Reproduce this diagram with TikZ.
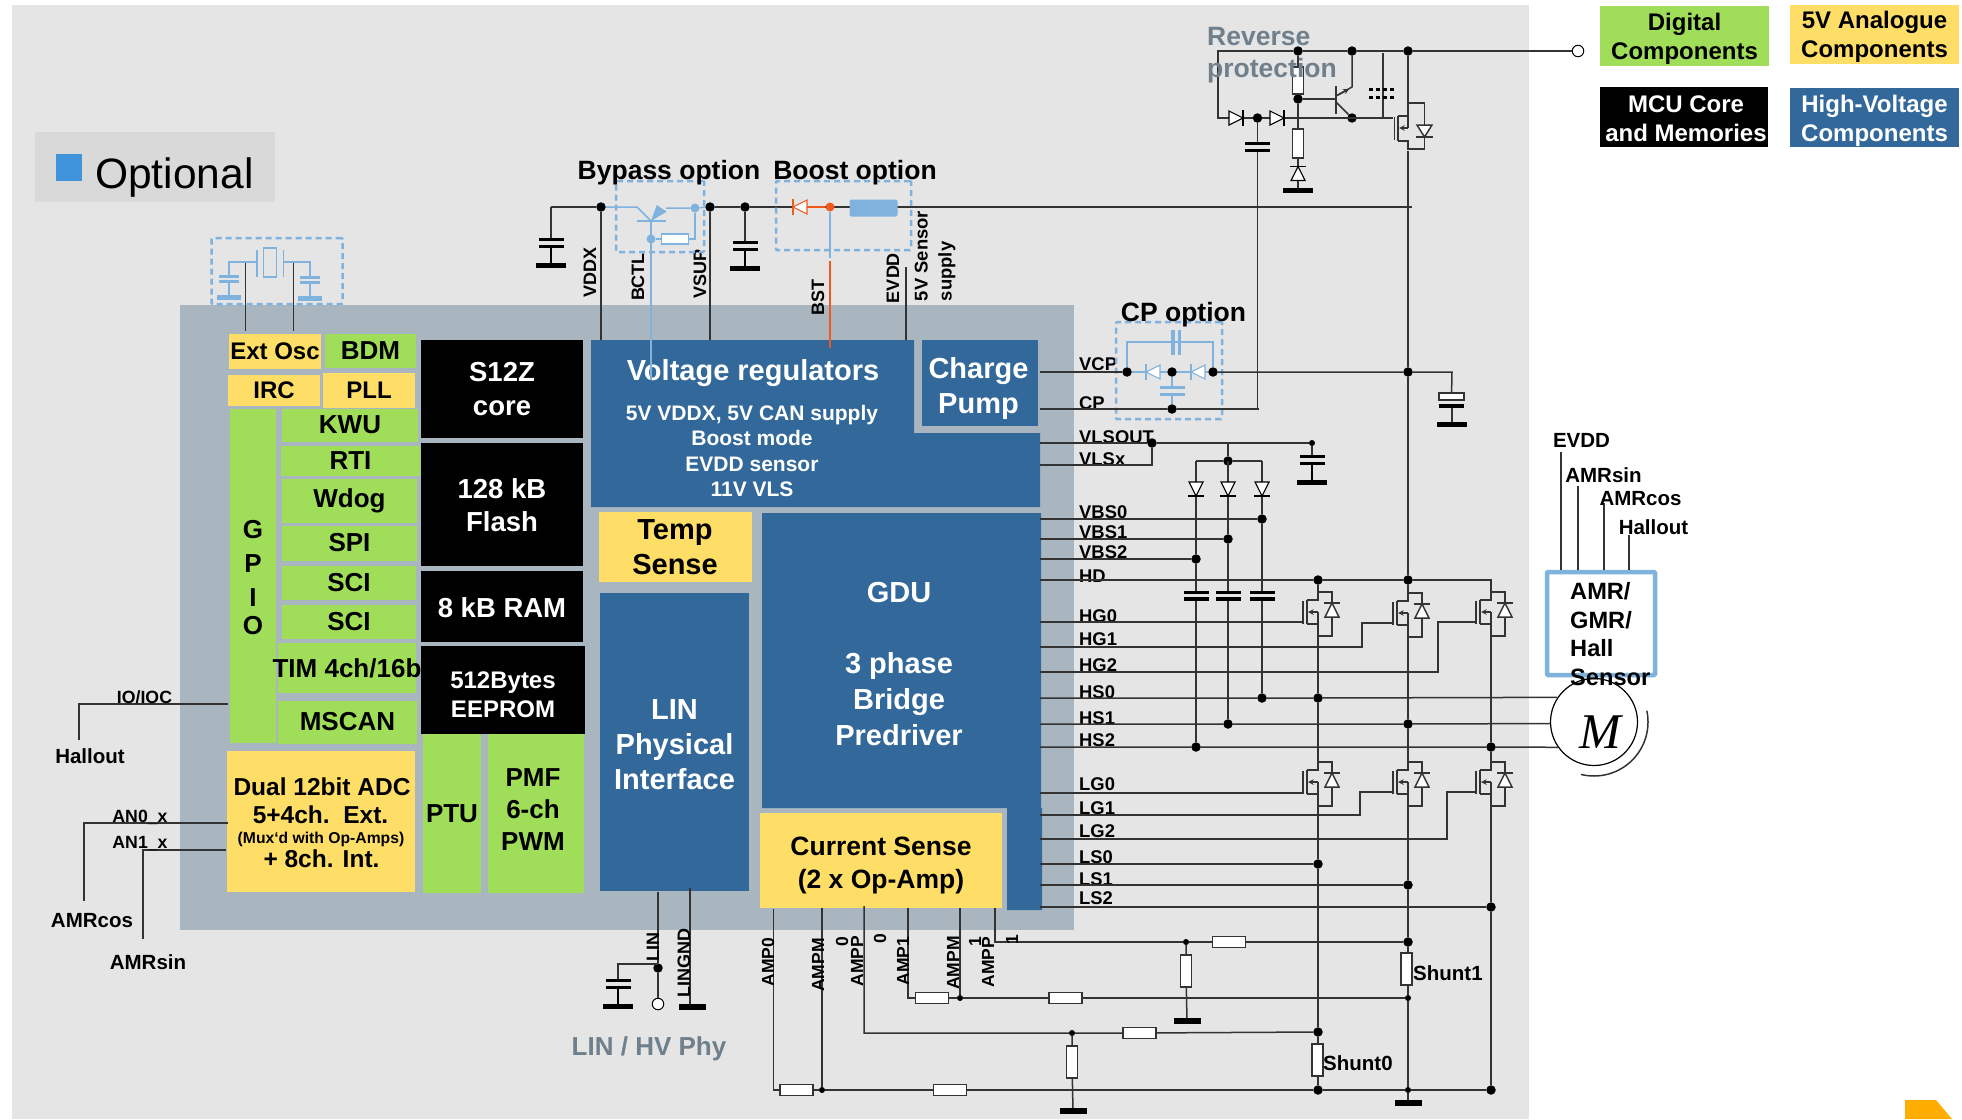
\documentclass[tikz,border=0pt]{standalone}
\usepackage{fontspec}
\setmainfont{Liberation Sans}
\newfontfamily\motorfont{Liberation Serif}
\usetikzlibrary{arrows,calc,positioning}

\definecolor{bgcol}{HTML}{E5E5E5}
\definecolor{chipcol}{HTML}{A9B6C0}
\definecolor{digcol}{HTML}{A0DE5A}
\definecolor{anacol}{HTML}{FFDE68}
\definecolor{hvcol}{HTML}{32689A}
\definecolor{optblue}{HTML}{7FB2DD}
\definecolor{bstcol}{HTML}{F05A1E}
\definecolor{grytxt}{HTML}{6F7F8C}
\definecolor{optsq}{HTML}{3F94DB}
\definecolor{optbg}{HTML}{D9D9D9}
\definecolor{cornercol}{HTML}{FFAD00}

\newcommand{\fsz}[2]{\fontsize{#1}{#2}\selectfont}

\tikzset{
  block/.style={inner sep=0pt,outer sep=0pt,align=center,font=\bfseries\fsz{26}{32}},
  digblk/.style={block,fill=digcol,text=black},
  anablk/.style={block,fill=anacol,text=black},
  hvblk/.style={block,fill=hvcol,text=white},
  mcublk/.style={block,fill=black,text=white},
  lbl/.style={inner sep=0pt,align=center,font=\bfseries\fsz{26}{32}},
  leglbl/.style={lbl,font=\bfseries\fsz{24}{29}},
  pinlbl/.style={inner sep=0pt,align=left,font=\bfseries\fsz{18.4}{24}},
  extlbl/.style={inner sep=0pt,font=\bfseries\fsz{20.5}{24}},
  wire/.style={line width=1.5pt,draw=black!80},
  optwire/.style={line width=1.5pt,draw=optblue},
  optbox/.style={draw=optblue,line width=2.5pt,dash pattern=on 6pt off 4pt,inner sep=0pt,rounded corners=1pt},
  jdot/.style={circle,fill=black,inner sep=0pt,minimum size=9.5},
  sdot/.style={circle,fill=black,inner sep=0pt,minimum size=6},
  odot/.style={circle,fill=optblue,inner sep=0pt,minimum size=9},
  term/.style={circle,draw=black,fill=white,line width=1pt,inner sep=0pt,minimum size=11.5},
  rh/.style={draw=black!80,fill=white,line width=1.3pt,inner sep=0pt,minimum width=33,minimum height=11},
  rv/.style={rh,minimum width=11.5,minimum height=32},
  gnd/.style={fill=black,inner sep=0pt,minimum width=27,minimum height=5.5},
  pics/diode/.style={code={
    \draw[#1,line width=1.1pt,fill=white] (-7,-7) -- (-7,7) -- (7,0) -- cycle;
    \draw[#1,line width=1.1pt] (7,-8) -- (7,8);
    \coordinate (-a) at (-7,0);
    \coordinate (-c) at (7,0);
  }},
  pics/diode/.default=black,
  pics/plates/.style={code={
    \fill[#1] (-12.5,0) rectangle (12.5,3.4);
    \fill[#1] (-12.5,6.6) rectangle (12.5,10);
    \coordinate (-t) at (0,0);
    \coordinate (-b) at (0,10);
  }},
  pics/plates/.default=black,
  pics/gcap/.style={code={
    \fill[#1] (-12.5,0) rectangle (12.5,3.4);
    \fill[#1] (-12.5,6.6) rectangle (12.5,10);
    \draw[#1,line width=1.5pt] (0,10) -- (0,25);
    \fill[#1] (-15,24.5) rectangle (15,30);
    \coordinate (-t) at (0,0);
  }},
  pics/gcap/.default=black,
  pics/fet/.style={code={
    \draw[wire] (0,0) -- (0,8) -- (-11,8);
    \draw[wire] (-11,32) -- (0,32) -- (0,52);
    \draw[wire] (0,20) -- (0,32);
    \draw[wire,->] (0,20) -- (-10,20);
    \draw[line width=1.8pt,black!80] (-11,8) -- (-11,32);
    \draw[wire] (-15,9) -- (-15,32);
    \draw[wire] (0,0) -- (14,0) -- (14,11);
    \draw[wire] (14,25) -- (14,44) -- (0,44);
    \draw[wire,fill=white] (7,25) -- (21,25) -- (14,11) -- cycle;
    \draw[wire] (6,11) -- (22,11);
    \coordinate (-d) at (0,0);
    \coordinate (-s) at (0,52);
    \coordinate (-g) at (-15,30);
  }}
}

\begin{document}
\begin{tikzpicture}[x=1pt,y=-1pt,>=stealth]
  \useasboundingbox (0,0) rectangle (1962,1119);
  \fill[white] (0,0) rectangle (1962,1119);
  \fill[bgcol] (12,5) rectangle (1529,1119);
  \fill[chipcol] (180,305) rectangle (1074,930);

  % optional marker
  \fill[optbg] (35,132) rectangle (275,202);
  \fill[optsq] (56,154) rectangle (82,181);
  \node[inner sep=0pt,anchor=west,font=\fsz{42.5}{46}] (optlbl) at (95,177.5) {Optional};

  % legend
  \node[digblk,minimum width=169,minimum height=60] (legdig) at (1684.5,36) {};
  \node[anablk,minimum width=169,minimum height=59] (legana) at (1874.5,34.5) {};
  \node[mcublk,minimum width=168,minimum height=60] (legmcu) at (1684,117) {};
  \node[hvblk,minimum width=169,minimum height=59] (leghv) at (1874.5,117.5) {};
  \node[leglbl] (legdigt) at (1684.5,39) {Digital\\Components};
  \node[leglbl] (leganat) at (1874.5,36.5) {5V Analogue\\Components};
  \node[leglbl,text=white] (legmcut) at (1686,119) {MCU Core\\\makebox[0pt]{and Memories}};
  \node[leglbl,text=white] (leghvt) at (1874.5,120.5) {High-Voltage\\Components};

  % digital and analogue blocks
  \node[anablk,minimum width=92,minimum height=35,font=\bfseries\fsz{24}{28}] (extosc) at (275,351.5) {\makebox[0pt]{Ext Osc}};
  \node[digblk,minimum width=91,minimum height=34] (bdm) at (370.5,351) {BDM};
  \node[anablk,minimum width=92,minimum height=31,font=\bfseries\fsz{24}{28}] (irc) at (274,390.5) {IRC};
  \node[anablk,minimum width=91.5,minimum height=35,font=\bfseries\fsz{24}{28}] (pll) at (369,390.5) {PLL};
  \node[digblk,minimum width=46,minimum height=334] (gpio) at (253,576) {};
  \foreach \n/\c/\y in {gG/G/530,gP/P/564,gI/I/598,gO/O/626}
    \node[lbl] (\n) at (253,\y) {\c};
  \node[digblk,minimum width=136,minimum height=33] (kwu) at (350,425) {KWU};
  \node[digblk,minimum width=139,minimum height=30] (rti) at (350.5,460.5) {RTI};
  \node[digblk,minimum width=135,minimum height=44] (wdog) at (349.5,501) {Wdog};
  \node[digblk,minimum width=135,minimum height=35] (spi) at (349.5,543) {SPI};
  \node[digblk,minimum width=134,minimum height=34] (scia) at (349,583) {SCI};
  \node[digblk,minimum width=134,minimum height=34] (scib) at (349,622) {SCI};
  \node[digblk,minimum width=138,minimum height=50] (tim) at (347,668) {\makebox[0pt]{TIM 4ch/16b}};
  \node[digblk,minimum width=139,minimum height=43] (mscan) at (347.5,722) {MSCAN};
  \node[anablk,minimum width=188,minimum height=141] (adc) at (321,821.5) {};
  \node[lbl,font=\bfseries\fsz{24.5}{28}] (adca) at (322,787) {Dual 12bit ADC};
  \node[lbl,font=\bfseries\fsz{24.5}{28}] (adcb) at (320.5,815) {5+4ch.\ \ Ext.};
  \node[lbl,font=\bfseries\fsz{15.7}{18}] (adcc) at (321,839) {(Mux‘d with Op-Amps)};
  \node[lbl,font=\bfseries\fsz{24.5}{28}] (adcd) at (321.5,859) {+ 8ch. Int.};

  % core and memories
  \node[mcublk,minimum width=162,minimum height=98,font=\bfseries\fsz{27.5}{34}] (core) at (502,389) {S12Z\\core};
  \node[mcublk,minimum width=162,minimum height=123,font=\bfseries\fsz{27.5}{33}] (flash) at (502,504) {};
  \node[lbl,text=white,font=\bfseries\fsz{27.5}{33}] (flasht) at (502,505.5) {128 kB\\Flash};
  \node[mcublk,minimum width=162,minimum height=71,font=\bfseries\fsz{27.5}{33}] (ram) at (502,606) {};
  \node[lbl,text=white,font=\bfseries\fsz{27.5}{33}] (ramt) at (502,607.5) {8 kB RAM};
  \node[digblk,minimum width=58,minimum height=159] (ptu) at (452,813.5) {PTU};
  \node[digblk,minimum width=96,minimum height=159] (pmf) at (535.5,813.5) {};
  \node[lbl] (pmft) at (533,809.5) {PMF\\6-ch\\PWM};
  \node[mcublk,minimum width=164,minimum height=88] (eeprom) at (503,690) {};
  \node[lbl,text=white,font=\bfseries\fsz{24}{29}] (eepromt) at (503,695) {512Bytes\\EEPROM};

  % high voltage blocks
  \fill[hvcol] (591,340) -- (914,340) -- (914,433) -- (1040,433) -- (1040,507) -- (591,507) -- cycle;
  \node[lbl,text=white,font=\bfseries\fsz{29}{34}] (vreg) at (753,373) {Voltage regulators};
  \node[lbl,text=white,font=\bfseries\fsz{21}{25.2}] (vregb) at (752,451) {5V VDDX, 5V CAN supply\\Boost mode\\EVDD sensor\\11V VLS};
  \node[hvblk,minimum width=116,minimum height=86] (cpump) at (980,383) {};
  \node[lbl,text=white,font=\bfseries\fsz{29}{35}] (cpumpt) at (978.5,388) {Charge\\Pump};
  \node[anablk,minimum width=153,minimum height=70,font=\bfseries\fsz{29}{35}] (temp) at (675,547) {Temp\\Sense};
  \node[hvblk,minimum width=149,minimum height=298] (linphy) at (674.5,742) {};
  \node[lbl,text=white,font=\bfseries\fsz{29}{35}] (linphyt) at (674.5,744.5) {LIN\\Physical\\Interface};
  \fill[hvcol] (762,513) -- (1041,513) -- (1041,808) -- (1042,808) -- (1042,910) -- (1007,910) -- (1007,808) -- (762,808) -- cycle;
  \node[lbl,text=white,font=\bfseries\fsz{29}{36}] (gdu) at (899,664) {GDU\\[35pt]3 phase\\Bridge\\Predriver};
  \node[anablk,minimum width=242,minimum height=95] (csense) at (881,860.5) {};
  \node[lbl,font=\bfseries\fsz{26.5}{33}] (csenset) at (881,865.5) {Current Sense\\(2 x Op-Amp)};

  % pins of the GDU side
  \foreach \n/\y in {VCP/372,CP/409,VLSOUT/443,VLSx/465,VBS0/519,VBS1/539,VBS2/559,HD/580,HG0/622,HG1/647,HG2/672,HS0/698,HS1/724,HS2/747,LG0/793,LG1/815,LG2/839,LS0/864,LS1/885,LS2/907}
    \coordinate (p\n) at (1040,\y);
  \foreach \n/\y in {VCP/364,CP/403,VLSOUT/437,VLSx/459,VBS0/512,VBS1/532,VBS2/552,HD/576,HG0/616,HG1/639,HG2/665,HS0/692,HS1/718,HS2/740,LG0/784,LG1/808,LG2/831,LS0/857,LS1/879,LS2/898}
    \node[pinlbl,anchor=west] (l\n) at (1079,\y) {\n};

  % junctions
  \foreach \n/\x/\y in {jVddx/601/207,jVsup/710/207,jBulk/745/207,jRevA/1298/51,jRevB/1352/51,jRevC/1408/51,jRevM/1298/99,jRevE/1352/118,jRevD/1257.5/118,jBat/1408/372,jCpa/1127/372,jCpb/1172/372,jCpc/1213/372,jCpd/1172/409,jVls/1152/443,jDio/1228/461,jVbsa/1262/519,jVbsb/1228/539,jVbsc/1196/559,jHda/1318/580,jHdb/1408/580,jHsa/1262/698,jHsb/1318/698,jHsc/1228/724,jHsd/1408/724,jHse/1196/747,jHsf/1491/747,jLsa/1318/864,jLsb/1408/885,jLsc/1491/907,jShb/1408/942,jSha/1318/1032,jLin/658/968,jGnd/1318/1090,jGndc/1491/1090}
    \node[jdot] (\n) at (\x,\y) {};
  \foreach \n/\x/\y in {sVls/1312/443,sAmpa/1186/942,sAmpb/960/998,sAmpc/1072/1033,sAmpd/822/1090,sShb/1408/998,sGnd/1408/1090}
    \node[sdot] (\n) at (\x,\y) {};

  % supply rail and its capacitors
  \coordinate (cVin) at (551,207);
  \coordinate (cRail) at (1412,207);
  \coordinate (pVddx) at (601,340);
  \coordinate (pVsup) at (710,340);
  \pic (cLeft) at (551,238) {gcap};
  \pic (cMid) at (745,241) {gcap};
  \draw[wire] (cVin) -- (jVddx) -- (pVddx);
  \draw[wire] (cVin) -- (cLeft-t);
  \draw[wire] (jVsup) -- (pVsup);
  \draw[wire] (jVsup) -- (jBulk) -- (cRail);
  \draw[wire] (jBulk) -- (cMid-t);
  \node[lbl,font=\bfseries\fsz{18}{22},rotate=90] (lVddx) at (590,272) {VDDX};
  \node[lbl,font=\bfseries\fsz{18}{22},rotate=90] (lBctl) at (638,277) {BCTL};
  \node[lbl,font=\bfseries\fsz{18}{22},rotate=90] (lVsup) at (700,274) {VSUP};
  \node[lbl,font=\bfseries\fsz{18}{22},rotate=90] (lBst) at (818,297) {BST};
  \node[lbl,font=\bfseries\fsz{18}{22},rotate=90] (lEvdd) at (893,278) {EVDD};
  \node[pinlbl,rotate=90] (lSens) at (935,256) {5V Sensor\\supply};
  \coordinate (cEv) at (906,267);
  \coordinate (pEv) at (906,340);
  \draw[wire] (cEv) -- (pEv);

  % bypass option
  \node[optbox,minimum width=88,minimum height=71] (boxBy) at (660,216.5) {};
  \node[lbl,font=\bfseries\fsz{26.5}{32}] (optBy) at (669,172.5) {Bypass option};
  \node[odot] (oBya) at (695,208) {};
  \node[odot] (oByb) at (651,239) {};
  \node[rh,draw=optblue,minimum width=27,minimum height=10] (rBy) at (675,239) {};
  \coordinate (cByc) at (637,207);
  \coordinate (cByb) at (651,221);
  \coordinate (cBye) at (666,208);
  \coordinate (pBctl) at (651,380);
  \draw[optwire] (jVddx) -- (cByc) -- (cByb);
  \draw[optwire] (637,221) -- (666,221);
  \fill[optblue] (cByb) -- (656.7,205) -- (666.7,211.7) -- cycle;
  \draw[optwire] (cBye) -- (oBya) -- (jVsup);
  \draw[optwire] (cByb) -- (pBctl);
  \draw[optwire] (oByb) -- (rBy);
  \draw[optwire] (rBy.east) -| (oBya);

  % boost option
  \node[optbox,minimum width=135,minimum height=69] (boxBo) at (843.5,215.5) {};
  \node[lbl,font=\bfseries\fsz{26.5}{32}] (optBo) at (855,172.5) {Boost option};
  \node[circle,fill=bstcol,inner sep=0pt,minimum size=9] (oBst) at (830,207) {};
  \node[fill=optblue,rounded corners=2pt,inner sep=0pt,minimum width=48,minimum height=17] (lInd) at (873.5,208) {};
  \pic[rotate=180] (dBst) at (800,207) {diode=bstcol};
  \coordinate (cBsa) at (830,258);
  \coordinate (cBsb) at (830,261);
  \coordinate (pBst) at (830,348);
  \draw[line width=1.5pt,bstcol] (dBst-a) -- (oBst);
  \draw[optwire] (oBst) -- (cBsa);
  \draw[line width=1.5pt,bstcol] (cBsb) -- (pBst);

  % oscillator option
  \node[optbox,minimum width=131,minimum height=66] (boxOsc) at (277,271) {};
  \pic[scale=.82] (cOa) at (229,275) {gcap=optblue};
  \pic[scale=.82] (cOb) at (310,276) {gcap=optblue};
  \node[draw=optblue,line width=1.5pt,inner sep=0pt,minimum width=13,minimum height=29] (xtal) at (270,262.5) {};
  \draw[optwire] (257,250) -- (257,277);
  \draw[optwire] (283.5,250) -- (283.5,277);
  \draw[optwire] (cOa-t) -- (229,262) -- (257,262);
  \draw[optwire] (cOb-t) -- (310,262) -- (283.5,262);
  \coordinate (cXa) at (245.5,263);
  \coordinate (cXb) at (293.5,263);
  \coordinate (pXa) at (245.5,331);
  \coordinate (pXb) at (293.5,331);
  \draw[wire] (cXa) -- (pXa);
  \draw[wire] (cXb) -- (pXb);

  % reverse protection
  \coordinate (cTopL) at (1218,51);
  \coordinate (cRevL) at (1218,118);
  \coordinate (cGate) at (1383,118);
  \node[term] (tBat) at (1578,51) {};
  \node[rv,minimum height=27,minimum width=11] (rRevA) at (1298,80.5) {};
  \node[rv,minimum height=29,minimum width=11] (rRevB) at (1298,143.5) {};
  \node[gnd,minimum width=30] (gRev) at (1298,190.5) {};
  \draw[wire] (tBat) -- (jRevC) -- (jRevB) -- (jRevA) -- (cTopL) -- (cRevL) -- (jRevD) -- (cGate);
  \draw[wire] (jRevA) -- (rRevA) -- (jRevM) -- (rRevB) -- (gRev);
  \pic (dRa) at (1236,118) {diode};
  \pic (dRb) at (1277,118) {diode};
  \pic[rotate=90] (zRev) at (1298,173.5) {diode};
  \pic (cRev) at (1257.5,142) {plates};
  \coordinate (cCpEnd) at (1259,409);
  \draw[wire] (jRevD) -- (cRev-t);
  \draw[wire] (cRev-b) -- (cRev-b |- cCpEnd);
  \draw[wire] (1336,86) -- (1336,114);
  \draw[wire] (jRevM) -- (1336,99);
  \draw[wire] (1336,96) -- (1352,87) -- (jRevB);
  \draw[wire,->] (1338,95) -- (1349,89);
  \draw[wire] (1336,102) -- (jRevE);
  \coordinate (cDash) at (1383,53);
  \draw[wire] (cDash) -- (cGate) -- (1393,118);
  \draw[line width=3pt,dash pattern=on 3.5pt off 3.6pt] (1369,89) -- (1394,89);
  \draw[line width=3pt,dash pattern=on 3.5pt off 3.6pt] (1369,97) -- (1394,97);
  \draw[wire] (1394.5,117) -- (1394.5,140);
  \draw[line width=1.8pt,black!80] (1398,116) -- (1398,141);
  \draw[wire] (jRevC) -- (1408,116) -- (1398,116);
  \draw[wire,->] (1408,128) -- (1399,128);
  \draw[wire] (1408,116) -- (1408,128);
  \draw[wire] (1398,141) -- (1408,141) -- (1408,149) -- (1424.5,149) -- (1424.5,103) -- (1408,103);
  \draw[wire,fill=white] (1417,125) -- (1432,125) -- (1424.5,137) -- cycle;
  \draw[wire] (1416,137) -- (1433,137);

  % charge pump option
  \node[optbox,minimum width=106,minimum height=97] (boxCp) at (1169,370.5) {};
  \node[lbl,font=\bfseries\fsz{26.5}{32}] (optCp) at (1183.5,315) {CP option};
  \pic[rotate=180] (dCa) at (1153,372) {diode=optblue};
  \pic[rotate=180] (dCb) at (1198,372) {diode=optblue};
  \draw[optwire] (jCpa) -- (dCa-c) (dCa-a) -- (jCpb) -- (dCb-c) (dCb-a) -- (jCpc);
  \coordinate (cCpTa) at (1127,342);
  \coordinate (cCpTb) at (1213,342);
  \draw[optwire] (jCpa) -- (cCpTa) -- (cCpTb) -- (jCpc);
  \fill[optblue] (1171,330) rectangle (1175,355);
  \fill[optblue] (1177.5,330) rectangle (1181,355);
  \pic (cCp) at (1172,386) {plates=optblue};
  \draw[optwire] (jCpb) -- (cCp-t);
  \draw[optwire] (cCp-b) -- (jCpd);
  \draw[wire] (pVCP) -- (jCpa);
  \draw[wire] (pCP) -- (jCpd) -- (cCpEnd);
  \coordinate (cBatR) at (1452,372);
  \node[rh,minimum width=25,minimum height=7.5,line width=1.8pt] (cElyt) at (1451.5,396.5) {};
  \fill (1439,404) rectangle (1464,408);
  \node[gnd,minimum width=30] (gBat) at (1452,424.5) {};
  \draw[wire] (jCpc) -- (jBat) -- (cBatR) -- (cElyt);
  \draw[wire] (1452,408) -- (gBat);

  % VLS supply and bootstrap diodes
  \pic (cVls) at (1312,455) {gcap};
  \draw[wire] (pVLSOUT) -- (jVls) -- (sVls) -- (cVls-t);
  \coordinate (cVlsx) at (1152,465);
  \draw[wire] (pVLSx) -- (cVlsx) -- (jVls);
  \coordinate (cDioT) at (1228,443);
  \coordinate (cDioL) at (1196,461);
  \coordinate (cDioR) at (1262,461);
  \draw[wire] (cDioT) -- (jDio);
  \draw[wire] (cDioL) -- (jDio) -- (cDioR);
  \foreach \n/\x/\a/\b/\c in {a/1262/jVbsa/jHsa/VBS0,b/1228/jVbsb/jHsc/VBS1,c/1196/jVbsc/jHse/VBS2}{
    \draw[wire] (\x,461) -- (\a);
    \pic[rotate=-90] (dV\n) at (\x,489) {diode};
    \pic (cV\n) at (\x,590.5) {plates};
    \draw[wire] (\a) -- (cV\n-t);
    \draw[wire] (cV\n-b) -- (\b);
    \draw[wire] (p\c) -- (\a);
  }

  % half bridges
  \pic (hfa) at (1318,592) {fet};
  \pic (hfb) at (1408,593) {fet};
  \pic (hfc) at (1491,592) {fet};
  \pic (lfa) at (1318,762) {fet};
  \pic (lfb) at (1408,762) {fet};
  \pic (lfc) at (1491,762) {fet};
  \coordinate (cHdR) at (1491,580);
  \draw[wire] (pHD) -- (jHda) -- (jHdb) -- (cHdR) -- (hfc-d);
  \draw[wire] (jHda) -- (hfa-d);
  \draw[wire] (jHdb) -- (hfb-d);
  \draw[wire] (jBat) -- (jHdb);
  \coordinate (cFetR) at (1408,151);
  \draw[wire] (cFetR) -- (jBat);
  \draw[wire] (pHG0) -- (hfa-g);
  \coordinate (cHga) at (1362,623);
  \coordinate (cHgb) at (1438,622);
  \coordinate (cLga) at (1360,792);
  \coordinate (cLgb) at (1447,792);
  \draw[wire] (pHG1) -| (cHga) -- (hfb-g);
  \draw[wire] (pHG2) -| (cHgb) -- (hfc-g);
  \draw[wire] (pLG0) -- (lfa-g |- pLG0);
  \draw[wire] (pLG1) -| (cLga) -- (lfb-g);
  \draw[wire] (pLG2) -| (cLgb) -- (lfc-g);
  \draw[wire] (hfa-s) -- (jHsb) -- (lfa-d);
  \draw[wire] (hfb-s) -- (jHsd) -- (lfb-d);
  \draw[wire] (hfc-s) -- (jHsf) -- (lfc-d);
  \draw[wire] (lfa-s) -- (jLsa);
  \draw[wire] (lfb-s) -- (jLsb);
  \draw[wire] (lfc-s) -- (jLsc) -- (jGndc);
  \draw[wire] (pLS0) -- (jLsa);
  \draw[wire] (pLS1) -- (jLsb);
  \draw[wire] (pLS2) -- (jLsc);

  % motor
  \node[draw=black,line width=1.2pt,circle,inner sep=0pt,minimum size=87] (motor) at (1594,722) {};
  \node[inner sep=0pt,font=\motorfont\itshape\fsz{50}{50}] (motort) at (1600,732) {M};
  \draw[wire] (pHS0) -- (jHsa) -- (jHsb) -- (motor.146.3);
  \draw[wire] (pHS1) -- (jHsc) -- (jHsd) -- (motor.182.6);
  \draw[wire] (pHS2) -- (jHse) -- (jHsf) -- (motor.215.3);
  \draw[wire] plot[domain=-12:104,samples=40] ({1594+54*cos(\x)},{722+54*sin(\x)});

  % shunts and current sense network
  \node[rv,line width=2pt,minimum width=11,minimum height=32] (rSha) at (1317,1060) {};
  \node[rv,line width=2pt,minimum width=11,minimum height=32] (rShb) at (1406,968.5) {};
  \node[gnd] (gShb) at (1408,1103) {};
  \draw[wire] (jLsa) -- (jSha);
  \draw[wire] (jSha) -- (1318,1044);
  \draw[wire] (1318,1076) -- (jGnd);
  \draw[wire] (jLsb) -- (jShb);
  \draw[wire] (jShb) -- (1408,953);
  \draw[wire] (1408,984) -- (sShb) -- (sGnd) -- (gShb);
  \node[extlbl,anchor=west] (lShb) at (1413,973) {Shunt1};
  \node[extlbl,anchor=west] (lSha) at (1323,1063) {Shunt0};
  \foreach \n/\x/\y in {Ampa/773.5/909,Ampb/822/908,Ampc/864/906,Ampd/908/908,Ampe/960/908,Ampf/995/908}
    \coordinate (c\n) at (\x,\y);
  \node[rh] (rAa) at (1229,942) {};
  \node[rv] (rAb) at (1186,971) {};
  \node[gnd] (gAb) at (1187,1021) {};
  \draw[wire] (cAmpf) |- (sAmpa) -- (rAa) -- (jShb);
  \draw[wire] (sAmpa) -- (rAb) -- (gAb);
  \node[rh] (rBa) at (932,998) {};
  \node[rh] (rBb) at (1065.5,998) {};
  \draw[wire] (cAmpd) |- (rBa) -- (sAmpb) -- (rBb) -- (sShb);
  \draw[wire] (cAmpe) -- (sAmpb);
  \node[rh] (rCa) at (1139.5,1033) {};
  \node[rv] (rCb) at (1072,1062) {};
  \node[gnd] (gCb) at (1073,1111) {};
  \draw[wire] (cAmpc) |- (sAmpc) -- (rCa) -- (jSha);
  \draw[wire] (sAmpc) -- (rCb) -- (gCb);
  \node[rh] (rDa) at (796.5,1090) {};
  \node[rh] (rDb) at (950,1090) {};
  \draw[wire] (cAmpa) |- (rDa) -- (sAmpd) -- (rDb) -- (jGnd) -- (sGnd) -- (jGndc);
  \draw[wire] (cAmpb) -- (sAmpd);
  \foreach \n/\t/\x/\y in {AmpZ/AMP0/768/962,AmpM/AMPM/818/965,AmpO/0/842/942,AmpP/AMPP/857/961,AmpQ/0/880/939,AmpR/AMP1/903/961,AmpS/AMPM/953/963,AmpT/1/975/942,AmpU/AMPP/988/962,AmpV/1/1012/940}
    \node[lbl,font=\bfseries\fsz{17.5}{20},rotate=90] (l\n) at (\x,\y) {\t};

  % LIN pins
  \coordinate (pLin) at (658,892);
  \coordinate (pLgnd) at (690,888);
  \coordinate (cLinC) at (618,964);
  \node[term] (tLin) at (658,1004) {};
  \pic (cLin) at (618,979) {gcap};
  \node[gnd] (gLin) at (692,1007) {};
  \draw[wire] (pLin) -- (jLin) -- (tLin);
  \draw[wire] (658,964) -- (cLinC) -- (cLin-t);
  \draw[wire] (pLgnd) -- (690,1004);
  \node[lbl,font=\bfseries\fsz{18}{22},rotate=90] (lLin) at (653,947) {LIN};
  \node[lbl,font=\bfseries\fsz{18}{22},rotate=90] (lLgnd) at (684,963) {LINGND};
  \node[lbl,text=grytxt] (lPhy) at (649,1048.5) {LIN / HV Phy};

  % left pins
  \coordinate (pIo) at (228,704);
  \coordinate (cIo) at (79,704);
  \coordinate (cHall) at (79,740);
  \coordinate (pAna) at (228,823);
  \coordinate (cAna) at (84,823);
  \coordinate (cCos) at (84,901);
  \coordinate (pAnb) at (226,850);
  \coordinate (cAnb) at (143,850);
  \coordinate (cSin) at (143,939);
  \draw[wire] (pIo) -- (cIo) -- (cHall);
  \draw[wire] (pAna) -- (cAna) -- (cCos);
  \draw[wire] (pAnb) -- (cAnb) -- (cSin);
  \node[extlbl,font=\bfseries\fsz{17.7}{20}] (lIo) at (144.5,697) {IO/IOC};
  \node[extlbl,font=\bfseries\fsz{17.7}{20}] (lAna) at (140,817) {AN0\_x};
  \node[extlbl,font=\bfseries\fsz{17.7}{20}] (lAnb) at (140,843) {AN1\_x};
  \node[extlbl] (lHall) at (90,756) {Hallout};
  \node[extlbl] (lCos) at (92,921) {AMRcos};
  \node[extlbl] (lSin) at (148,962) {AMRsin};

  % position sensor
  \node[draw=optblue,line width=4.5pt,rounded corners=1pt,inner sep=0pt,minimum width=108,minimum height=103] (boxAmr) at (1601,623.5) {};
  \foreach \n/\x/\y in {Evdd/1561/452,Asin/1578/486,Acos/1604/503,Hallb/1629/535}{
    \coordinate (c\n) at (\x,\y);
    \draw[wire] (c\n) -- (c\n |- boxAmr.north);
  }
  \node[extlbl,align=left,anchor=west,font=\bfseries\fsz{23.6}{28.7}] (lAmr) at (1570,634) {AMR/\\GMR/\\Hall\\Sensor};
  \node[extlbl] (lEvb) at (1581.5,440) {EVDD};
  \node[extlbl] (lSnb) at (1603.5,475) {AMRsin};
  \node[extlbl] (lCsb) at (1640.5,499) {AMRcos};
  \node[extlbl] (lHlb) at (1653.5,527) {Hallout};

  \node[lbl,text=grytxt,align=left,anchor=north west,font=\bfseries\fsz{26.5}{32}] (lRev) at (1207,27) {Reverse\\protection};

  % corner mark
  \fill[cornercol] (1905,1100) -- (1936,1100) -- (1952,1119) -- (1905,1119) -- cycle;
\end{tikzpicture}
\end{document}
